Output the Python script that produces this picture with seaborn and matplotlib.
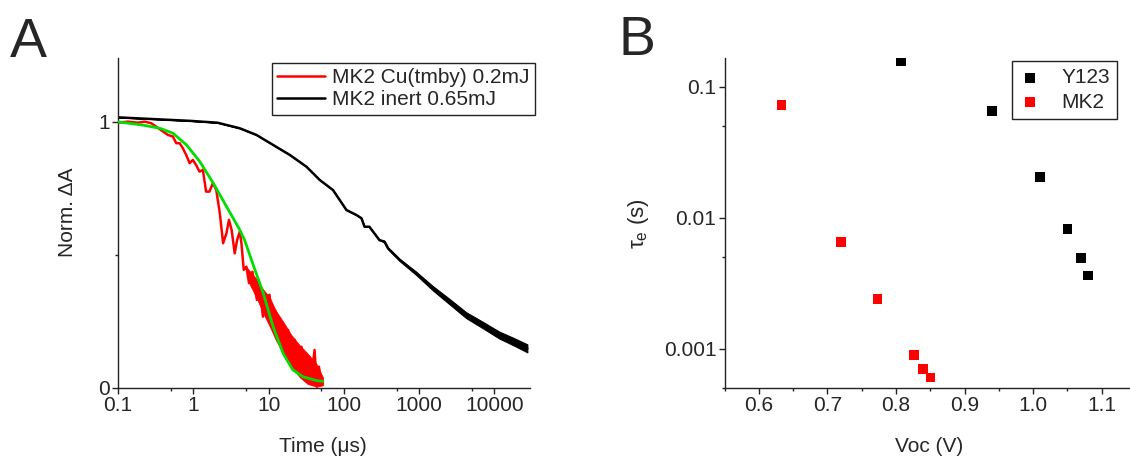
import matplotlib
matplotlib.use("Agg")
import matplotlib.pyplot as plt
import seaborn as sns
import numpy as np

# ---------------- Panel A data ----------------
red_t = [0.1, 0.136, 0.184, 0.226, 0.277, 0.322, 0.396, 0.46, 0.536, 0.594, 0.66, 0.727,
         0.805, 0.894, 0.988, 1.09, 1.21, 1.34, 1.48, 1.64, 1.82, 2.02, 2.25, 2.49, 2.76,
         2.98, 3.23, 3.55, 3.82, 4.15, 4.36, 4.68, 5.07, 5.5, 6.1, 6.54, 7.0, 7.6, 8.4,
         9.3, 10.3, 10.9, 12.1, 13.4, 14.1, 15.6, 16.9, 18.2, 20.1, 22.3, 24.6, 27.3,
         30.2, 33.4, 36.9, 40.8, 43.8, 46.6, 50.0, 52.8]
red_v = [0.997, 1.001, 0.997, 1.001, 0.995, 0.982, 0.964, 0.951, 0.945, 0.92, 0.92, 0.901,
         0.876, 0.845, 0.857, 0.838, 0.813, 0.82, 0.738, 0.738, 0.77, 0.744, 0.657, 0.544,
         0.582, 0.632, 0.594, 0.506, 0.556, 0.588, 0.544, 0.444, 0.456, 0.394, 0.437, 0.381,
         0.331, 0.394, 0.268, 0.343, 0.35, 0.256, 0.293, 0.268, 0.18, 0.23, 0.155, 0.218,
         0.105, 0.18, 0.08, 0.155, 0.055, 0.118, 0.03, 0.143, 0.005, 0.08, 0.024, 0.018]
# envelope of the dense noise of the red trace
red_band_t = [5.07, 5.6, 6.9, 8.5, 10.4, 12.5, 15.6, 20.0, 26.0, 33.0, 43.4, 52.8]
red_band_hi = [0.456, 0.44, 0.41, 0.37, 0.34, 0.29, 0.25, 0.20, 0.16, 0.13, 0.09, 0.04]
red_band_lo = [0.456, 0.39, 0.34, 0.28, 0.23, 0.18, 0.13, 0.08, 0.04, 0.015, 0.005, 0.01]

green_t = [0.1, 0.204, 0.36, 0.54, 0.81, 1.22, 1.84, 2.76, 4.15, 4.8, 5.93, 8.5, 11.5,
           15.6, 21.0, 28.7, 43.3, 52.8]
green_v = [1.0, 0.989, 0.976, 0.957, 0.914, 0.851, 0.77, 0.682, 0.594, 0.556, 0.481,
           0.356, 0.23, 0.13, 0.068, 0.042, 0.028, 0.025]

black_t = [0.1, 0.9, 2.1, 4.15, 6.9, 11.4, 19.1, 31.7, 47.7, 71.6, 108, 147, 171, 188,
           218, 296, 346, 385, 552, 912, 1516, 2520, 4190, 6960, 11560, 18000, 27300]
black_v = [1.017, 1.004, 0.997, 0.976, 0.951, 0.914, 0.876, 0.832, 0.782, 0.744, 0.669,
           0.65, 0.638, 0.606, 0.606, 0.556, 0.55, 0.525, 0.481, 0.431, 0.375, 0.325,
           0.274, 0.237, 0.199, 0.174, 0.149]
# half-width of the noise band of the black trace
black_spread = [0, 0, 0, 0, 0, 0, 0, 0, 0, 0, 0, 0, 0, 0, 0, 0, 0.003, 0.003, 0.004,
                0.006, 0.008, 0.010, 0.011, 0.012, 0.013, 0.014, 0.015]

labelA_red = "MK2 Cu(tmby) 0.2mJ"
labelA_black = "MK2 inert 0.65mJ"
xticksA = [0.1, 1, 10, 100, 1000, 10000]
xticklabelsA = ["0.1", "1", "10", "100", "1000", "10000"]
yticksA = [0, 1]
yticklabelsA = ["0", "1"]

# ---------------- Panel B data ----------------
y123_voc = [0.807, 0.940, 1.010, 1.050, 1.070, 1.080]
y123_tau = [0.156, 0.065, 0.0205, 0.0082, 0.0049, 0.0036]
mk2_voc = [0.633, 0.720, 0.773, 0.826, 0.839, 0.850]
mk2_tau = [0.072, 0.0065, 0.0024, 0.00089, 0.00070, 0.00060]
xticksB = [0.6, 0.7, 0.8, 0.9, 1.0, 1.1]
xticklabelsB = ["0.6", "0.7", "0.8", "0.9", "1.0", "1.1"]
yticksB = [0.001, 0.01, 0.1]
yticklabelsB = ["0.001", "0.01", "0.1"]

# ---------------- style ----------------
sns.set_style("ticks")
plt.rcParams["font.family"] = ["Liberation Sans", "DejaVu Sans"]
plt.rcParams["mathtext.fontset"] = "custom"
plt.rcParams["mathtext.rm"] = "Liberation Sans"
plt.rcParams["mathtext.it"] = "Liberation Sans:italic"
FS = 15

fig = plt.figure(figsize=(11.3, 4.57), dpi=100)
axA = fig.add_axes([0.1044, 0.151, 0.365, 0.722])
axB = fig.add_axes([0.6413, 0.151, 0.364, 0.722])

for ax in (axA, axB):
    for s in ("top", "right"):
        ax.spines[s].set_visible(False)
    for s in ("left", "bottom"):
        ax.spines[s].set_linewidth(1.0)
        ax.spines[s].set_color("#222222")
    ax.tick_params(which="major", direction="out", length=4, width=1.0,
                   labelsize=FS, pad=2, color="#222222")
    ax.tick_params(which="minor", direction="out", length=2.5, width=1.0,
                   color="#222222")

# ---- Panel A ----
axA.set_xscale("log")
bt = np.array(black_t)
bv = np.array(black_v)
bs = np.array(black_spread)
axA.fill_between(bt, bv - bs, bv + bs, color="black", linewidth=0.8, zorder=2)
axA.fill_between(red_band_t, red_band_lo, red_band_hi, color="#ff0000",
                 linewidth=0.5, zorder=3)
sns.lineplot(x=red_t, y=red_v, ax=axA, color="#ff0000", lw=1.8, estimator=None,
             sort=False, label=labelA_red, zorder=3)
sns.lineplot(x=black_t, y=black_v, ax=axA, color="black", lw=1.8, estimator=None,
             sort=False, label=labelA_black, zorder=2)
sns.lineplot(x=green_t, y=green_v, ax=axA, color="#00dd00", lw=2.0, estimator=None,
             sort=False, legend=False, zorder=4)
axA.set_xlim(0.1, 30000)
axA.set_ylim(0, 1.24)
axA.set_xticks(xticksA)
axA.set_xticklabels(xticklabelsA)
axA.xaxis.set_minor_locator(matplotlib.ticker.FixedLocator(
    [0.5, 5, 50, 500, 5000]))
axA.xaxis.set_minor_formatter(matplotlib.ticker.NullFormatter())
axA.set_yticks(yticksA)
axA.set_yticklabels(yticklabelsA)
axA.yaxis.set_minor_locator(matplotlib.ticker.FixedLocator([0.5]))
axA.set_xlabel("Time (\u03bcs)", fontsize=FS)
axA.set_ylabel("Norm. \u0394A", fontsize=FS)
axA.xaxis.set_label_coords(0.497, -0.148)
axA.xaxis.label.set_va("top")
axA.yaxis.set_label_coords(-0.099, 0.532)
legA = axA.legend(loc="upper right", bbox_to_anchor=(1.011, 0.985), borderaxespad=0,
                  fontsize=FS, frameon=True, fancybox=False, handlelength=2.3,
                  handletextpad=0.35, borderpad=0.25, labelspacing=0.15)
legA.get_frame().set_edgecolor("#222222")
legA.get_frame().set_linewidth(1.0)
legA.get_frame().set_alpha(1)

# ---- Panel B ----
axB.set_yscale("log")
sns.scatterplot(x=y123_voc, y=y123_tau, ax=axB, marker="s", s=48, color="black",
                edgecolor="none", label="Y123", zorder=3)
sns.scatterplot(x=mk2_voc, y=mk2_tau, ax=axB, marker="s", s=48, color="#ff0000",
                edgecolor="none", label="MK2", zorder=3)
axB.set_xlim(0.55, 1.15)
axB.set_ylim(0.0005, 0.165)
axB.set_xticks(xticksB)
axB.set_xticklabels(xticklabelsB)
axB.xaxis.set_minor_locator(matplotlib.ticker.FixedLocator(
    [0.55, 0.65, 0.75, 0.85, 0.95, 1.05, 1.15]))
axB.set_yticks(yticksB)
axB.set_yticklabels(yticklabelsB)
axB.yaxis.set_minor_locator(matplotlib.ticker.FixedLocator([0.0005, 0.005, 0.05]))
axB.yaxis.set_minor_formatter(matplotlib.ticker.NullFormatter())
axB.set_xlabel("Voc (V)", fontsize=FS)
axB.set_ylabel("\u03c4$_\\mathregular{e}$ (s)", fontsize=FS + 1)
axB.xaxis.set_label_coords(0.497, -0.148)
axB.xaxis.label.set_va("top")
axB.yaxis.set_label_coords(-0.179, 0.5)
legB = axB.legend(loc="upper right", bbox_to_anchor=(0.954, 0.991), borderaxespad=0,
                  fontsize=FS, frameon=True, fancybox=False, handletextpad=1.0,
                  borderpad=0.35, labelspacing=0.25, markerscale=1.0,
                  handlelength=1.0)
legB.get_frame().set_edgecolor("#222222")
legB.get_frame().set_linewidth(1.0)
legB.get_frame().set_alpha(1)

# panel letters
fig.text(0.009, 0.876, "A", fontsize=40, va="baseline", ha="left")
fig.text(0.547, 0.880, "B", fontsize=40, va="baseline", ha="left")

fig.savefig("out.png", dpi=100)
